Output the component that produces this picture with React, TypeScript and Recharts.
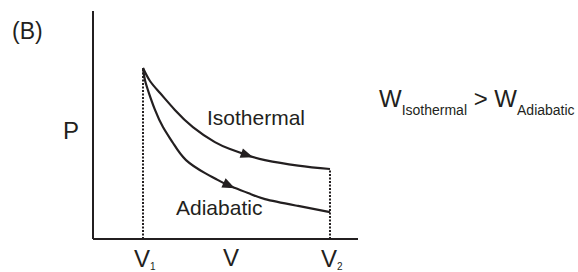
import { LineChart, Line, XAxis, YAxis, ReferenceDot } from "recharts";

// volumes of the two end states
const V1 = 1.887;
const V2 = 8.943;
const volumeTicks = [V1, V2];
const tickSubscripts = ["1", "2"];

// expansion curves (V, P)
const isothermalV = [V1, 2.15, 2.53, 3.09, 3.77, 4.6, 5.17, 5.81, 6.49, 7.74, V2];
const isothermalP = [7.5, 6.93, 6.4, 5.66, 4.91, 4.25, 3.95, 3.68, 3.46, 3.22, 3.07];
const adiabaticV = [V1, 1.96, 2.11, 2.34, 2.64, 3.02, 3.51, 4.23, 4.64, 5.17, 5.85, 6.49, 7.74, V2];
const adiabaticP = [7.5, 6.97, 6.4, 5.66, 4.91, 4.21, 3.46, 2.89, 2.63, 2.32, 2.02, 1.75, 1.45, 1.18];

const isothermal = isothermalV.map((v, i) => ({ v, p: isothermalP[i] }));
const adiabatic = adiabaticV.map((v, i) => ({ v, p: adiabaticP[i] }));
// dotted drop lines at V1 and V2
const dropV1 = [{ v: V1, p: 0 }, { v: V1, p: isothermalP[0] }];
const dropV2 = [{ v: V2, p: 0 }, { v: V2, p: isothermalP[isothermalP.length - 1] }];

const INK = "#231f20";
const FONT = "'Liberation Sans', Arial, Helvetica, sans-serif";

function Arrow(angle: number) {
  return (props: any) => {
    const { cx, cy } = props;
    return (
      <polygon
        points="6.5,0 -6,-5 -6,5"
        fill={INK}
        transform={`translate(${cx},${cy}) rotate(${angle})`}
      />
    );
  };
}

function VolumeTick(props: any) {
  const { x, y, index } = props;
  return (
    <text x={x - 9} y={y + 20} fontFamily={FONT} fill={INK} fontSize={24}>
      V
      <tspan fontSize={10} dy={3}>
        {tickSubscripts[index]}
      </tspan>
    </text>
  );
}

export default function App() {
  return (
    <div style={{ position: "absolute", left: 0, top: 0, background: "#fff" }}>
      <LineChart
        width={578}
        height={272}
        margin={{ top: 11, right: 220, bottom: 0, left: 0 }}
      >
        <XAxis
          type="number"
          dataKey="v"
          domain={[0, 10]}
          ticks={volumeTicks}
          tick={<VolumeTick />}
          tickLine={false}
          axisLine={{ stroke: INK, strokeWidth: 2 }}
          height={33}
          allowDataOverflow
        />
        <YAxis
          type="number"
          dataKey="p"
          domain={[0, 10]}
          tick={false}
          tickLine={false}
          axisLine={{ stroke: INK, strokeWidth: 2 }}
          width={93}
          allowDataOverflow
        />
        <Line
          data={dropV1}
          dataKey="p"
          type="linear"
          stroke={INK}
          strokeWidth={2}
          strokeDasharray="2 1.5"
          dot={false}
          isAnimationActive={false}
        />
        <Line
          data={dropV2}
          dataKey="p"
          type="linear"
          stroke={INK}
          strokeWidth={2}
          strokeDasharray="2 1.5"
          dot={false}
          isAnimationActive={false}
        />
        <Line
          data={isothermal}
          dataKey="p"
          type="natural"
          stroke={INK}
          strokeWidth={2.2}
          dot={false}
          isAnimationActive={false}
        />
        <Line
          data={adiabatic}
          dataKey="p"
          type="natural"
          stroke={INK}
          strokeWidth={2.2}
          dot={false}
          isAnimationActive={false}
        />
        <ReferenceDot x={5.81} y={3.68} r={6} shape={Arrow(19)} />
        <ReferenceDot x={5.13} y={2.35} r={6} shape={Arrow(25)} />
        <text x={12} y={39} fontFamily={FONT} fontSize={23} fill={INK}>
          (B)
        </text>
        <text x={63} y={139} fontFamily={FONT} fontSize={24} fill={INK}>
          P
        </text>
        <text x={223} y={266} fontFamily={FONT} fontSize={24} fill={INK}>
          V
        </text>
        <text x={207} y={125} fontFamily={FONT} fontSize={21} fill={INK}>
          Isothermal
        </text>
        <text x={176} y={215} fontFamily={FONT} fontSize={21} fill={INK}>
          Adiabatic
        </text>
        <text x={379} y={107} fontFamily={FONT} fontSize={24} fill={INK}>
          W
          <tspan fontSize={14} dy={8}>
            Isothermal
          </tspan>
          <tspan fontSize={24} dy={-8}>
            {" > W"}
          </tspan>
          <tspan fontSize={14} dy={8}>
            Adiabatic
          </tspan>
        </text>
      </LineChart>
    </div>
  );
}
